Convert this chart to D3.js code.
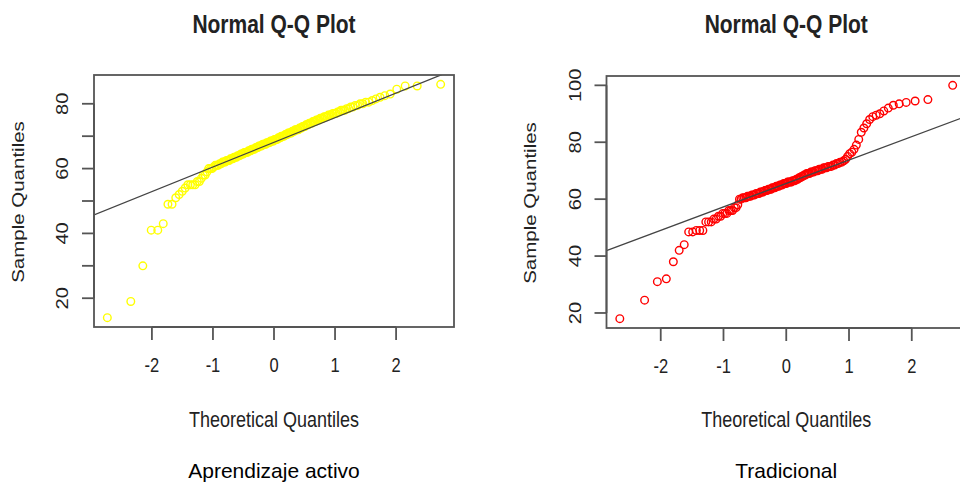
<!DOCTYPE html>
<html>
<head>
<meta charset="utf-8">
<script src="https://cdn.jsdelivr.net/npm/d3@7"></script>
<style>
  body { margin: 0; background: #fff; }
  text { font-family: "Liberation Sans", Arial, sans-serif; }
</style>
</head>
<body>
<div id="chart"></div>
<script>
// Normal Q-Q plots of two groups of scores (R qqnorm + qqline look)

// Sorted sample scores
const activeScores = [
  14, 19, 30, 41, 41, 43, 49, 49, 51, 52, 53, 54, 55, 55, 55, 55, 56, 56, 57, 58, 58, 59, 60, 60, 60,
  60.5, 61, 61, 61, 61.5, 61.5, 62, 62, 62, 62.5, 62.5, 62.5, 63, 63, 63,
  63.5, 63.5, 63.5, 64, 64, 64, 64.5, 64.5, 64.5, 65, 65, 65, 65, 65.5, 65.5,
  65.5, 66, 66, 66, 66, 66.5, 66.5, 66.5, 67, 67, 67, 67, 67.5, 67.5, 67.5,
  67.5, 68, 68, 68, 68, 68.5, 68.5, 68.5, 68.5, 69, 69, 69, 69, 69.5, 69.5,
  69.5, 70, 70, 70, 70, 70.5, 70.5, 70.5, 71, 71, 71, 71, 71.5, 71.5, 71.5,
  72, 72, 72, 72, 72.5, 72.5, 72.5, 73, 73, 73, 73.5, 73.5, 73.5, 74, 74,
  74, 74.5, 74.5, 74.5, 75, 75, 75, 75.5, 75.5, 75.5, 76, 76, 76, 76.5, 76.5,
  76.5, 77, 77, 77, 77.5, 77.5, 78, 78, 78, 78.5, 78.5, 79, 79, 79.5, 79.5,
  80, 80, 80.5, 80.5, 81, 81.5, 82, 82.5, 83, 84.5, 85.5, 85.5, 86
];

const traditionalScores = [
  18, 24.5, 31, 32, 38, 42, 44, 48.5, 48.5, 49, 49, 49, 52, 52, 52, 53, 53, 54, 54, 55, 55, 55, 56, 56, 56, 57, 57, 58,
  60, 60, 60.5, 60.5, 60.5, 61, 61, 61, 61.5, 61.5, 61.5, 62, 62, 62,
  62.5, 62.5, 62.5, 63, 63, 63, 63.5, 63.5, 63.5, 64, 64, 64, 64.5, 64.5, 64.5,
  65, 65, 65, 65.5, 65.5, 65.5, 66, 66, 66, 66, 66.5, 66.5, 66.5, 67, 67,
  67.5, 67.5, 68, 68, 68.5, 68.5, 69, 69, 69, 69.5, 69.5, 69.5, 70, 70, 70,
  70.5, 70.5, 70.5, 71, 71, 71, 71.5, 71.5, 71.5, 72, 72, 72.5, 72.5, 73, 73,
  73.5, 74,
  75, 76, 76.5, 77.5, 79, 81, 83.5, 85, 86.5, 88, 89, 89.5, 90, 91, 92, 93, 93.5, 94, 94.5, 95, 100
];

// qqline: [intercept, slope]
const activeLine = [68.1, 7.6];
const traditionalLine = [65.5, 8.23];

// Tick values and labels
const xTicks = [-2, -1, 0, 1, 2];
const activeYTicks = [20, 30, 40, 50, 60, 70, 80];
const activeYLabels = [20, 40, 60, 80];
const traditionalYTicks = [20, 40, 60, 80, 100];
const traditionalYLabels = [20, 40, 60, 80, 100];

const titleText = 'Normal Q-Q Plot';
const xTitle = 'Theoretical Quantiles';
const yTitle = 'Sample Quantiles';
const captions = ['Aprendizaje activo', 'Tradicional'];

const width = 960;
const height = 497;
// the R plots in the source are a bit stretched vertically
const stretch = 1.22;

const svg = d3.select('#chart')
  .append('svg')
  .attr('width', width)
  .attr('height', height);

// Inverse normal CDF (Acklam), used for the theoretical quantiles
function qnorm(p) {
  const a = [-3.969683028665376e+01, 2.209460984245205e+02, -2.759285104469687e+02, 1.383577518672690e+02, -3.066479806614716e+01, 2.506628277459239e+00];
  const b = [-5.447609879822406e+01, 1.615858368580409e+02, -1.556989798598866e+02, 6.680131188771972e+01, -1.328068155288572e+01];
  const c = [-7.784894002430293e-03, -3.223964580411365e-01, -2.400758277161838e+00, -2.549732539343734e+00, 4.374664141464968e+00, 2.938163982698783e+00];
  const d = [7.784695709041462e-03, 3.224671290700398e-01, 2.445134137142996e+00, 3.754408661907416e+00];
  const pl = 0.02425;
  if (p < pl) {
    const q = Math.sqrt(-2 * Math.log(p));
    return (((((c[0] * q + c[1]) * q + c[2]) * q + c[3]) * q + c[4]) * q + c[5]) /
      ((((d[0] * q + d[1]) * q + d[2]) * q + d[3]) * q + 1);
  }
  if (p > 1 - pl) return -qnorm(1 - p);
  const q = p - 0.5, r = q * q;
  return (((((a[0] * r + a[1]) * r + a[2]) * r + a[3]) * r + a[4]) * r + a[5]) * q /
    (((((b[0] * r + b[1]) * r + b[2]) * r + b[3]) * r + b[4]) * r + 1);
}

// R style axis range: data range stretched by 4%
function padded(ext) {
  const pad = (ext[1] - ext[0]) * 0.04;
  return [ext[0] - pad, ext[1] + pad];
}

// horizontal text, taller than wide like the source
function hText(x, y, str, size, weight, fill, sy) {
  return svg.append('text')
    .attr('transform', `translate(${x},${y}) scale(1,${sy || stretch})`)
    .attr('text-anchor', 'middle')
    .attr('font-size', size)
    .attr('font-weight', weight || 'normal')
    .attr('fill', fill || '#222')
    .text(str);
}

// vertical text, read bottom to top
function vText(x, y, str, size) {
  return svg.append('text')
    .attr('transform', `translate(${x},${y}) rotate(-90) scale(${stretch},1)`)
    .attr('text-anchor', 'middle')
    .attr('font-size', size)
    .attr('fill', '#222')
    .text(str);
}

function drawPanel(opts) {
  const n = opts.scores.length;
  const points = opts.scores.map((v, i) => ({ q: qnorm((i + 1 - 0.5) / n), v: v }));

  const x = d3.scaleLinear()
    .domain(padded(d3.extent(points, d => d.q)))
    .range([opts.left, opts.right]);
  const y = d3.scaleLinear()
    .domain(padded(d3.extent(points, d => d.v)))
    .range([opts.bottom, opts.top]);

  const g = svg.append('g');

  // qq points, open circles
  g.selectAll('.pt')
    .data(points)
    .enter()
    .append('circle')
    .attr('class', 'pt')
    .attr('cx', d => x(d.q))
    .attr('cy', d => y(d.v))
    .attr('r', 3.8)
    .attr('fill', 'none')
    .attr('stroke', opts.color)
    .attr('stroke-width', 1.4);

  // qqline across the whole box
  const [x0, x1] = x.domain();
  g.append('line')
    .attr('x1', x(x0))
    .attr('y1', y(opts.line[0] + opts.line[1] * x0))
    .attr('x2', x(x1))
    .attr('y2', y(opts.line[0] + opts.line[1] * x1))
    .attr('stroke', '#444')
    .attr('stroke-width', 1.3);

  // clip everything to the box area
  const clipId = 'clip' + Math.round(opts.left);
  svg.append('clipPath').attr('id', clipId)
    .append('rect')
    .attr('x', opts.left).attr('y', opts.top)
    .attr('width', opts.right - opts.left).attr('height', opts.bottom - opts.top);
  g.attr('clip-path', `url(#${clipId})`);

  // box
  svg.append('rect')
    .attr('x', opts.left)
    .attr('y', opts.top)
    .attr('width', opts.right - opts.left)
    .attr('height', opts.bottom - opts.top)
    .attr('fill', 'none')
    .attr('stroke', '#555')
    .attr('stroke-width', 1.8);

  // x axis
  const xAxis = svg.append('g').attr('stroke', '#555').attr('stroke-width', 1.8);
  xAxis.append('line')
    .attr('x1', x(xTicks[0])).attr('x2', x(xTicks[xTicks.length - 1]))
    .attr('y1', opts.bottom).attr('y2', opts.bottom);
  xAxis.selectAll('.xt')
    .data(xTicks)
    .enter()
    .append('line')
    .attr('x1', d => x(d)).attr('x2', d => x(d))
    .attr('y1', opts.bottom).attr('y2', opts.bottom + 13);
  xTicks.forEach(d => hText(x(d), opts.bottom + 45, d < 0 ? '-' + Math.abs(d) : d, 16.5));

  // y axis
  const yt = opts.yTicks;
  const yAxis = svg.append('g').attr('stroke', '#555').attr('stroke-width', 1.8);
  yAxis.append('line')
    .attr('x1', opts.left).attr('x2', opts.left)
    .attr('y1', y(yt[0])).attr('y2', y(yt[yt.length - 1]));
  yAxis.selectAll('.yt')
    .data(yt)
    .enter()
    .append('line')
    .attr('x1', opts.left - 12).attr('x2', opts.left)
    .attr('y1', d => y(d)).attr('y2', d => y(d));
  opts.yLabels.forEach(d => vText(opts.left - 26, y(d), d, 16.5));

  // titles
  const cx = (x(x0) + x(x1)) / 2;
  hText(cx, 33, titleText, 21, 'bold');
  hText(cx, 427, xTitle, 18);
  vText(opts.yTitleX, (opts.top + opts.bottom) / 2 + 1, yTitle, 16.8);
  // captions sit outside the R plots, not stretched
  hText(cx, 478, opts.caption, 21, 'normal', '#000', 1);
}

drawPanel({
  scores: activeScores, line: activeLine, color: '#ffff00',
  yTicks: activeYTicks, yLabels: activeYLabels, caption: captions[0],
  left: 94, right: 454, top: 75, bottom: 327, yTitleX: 24
});

drawPanel({
  scores: traditionalScores, line: traditionalLine, color: '#ff0000',
  yTicks: traditionalYTicks, yLabels: traditionalYLabels, caption: captions[1],
  left: 606.5, right: 966, top: 76, bottom: 328, yTitleX: 536
});
</script>
</body>
</html>
